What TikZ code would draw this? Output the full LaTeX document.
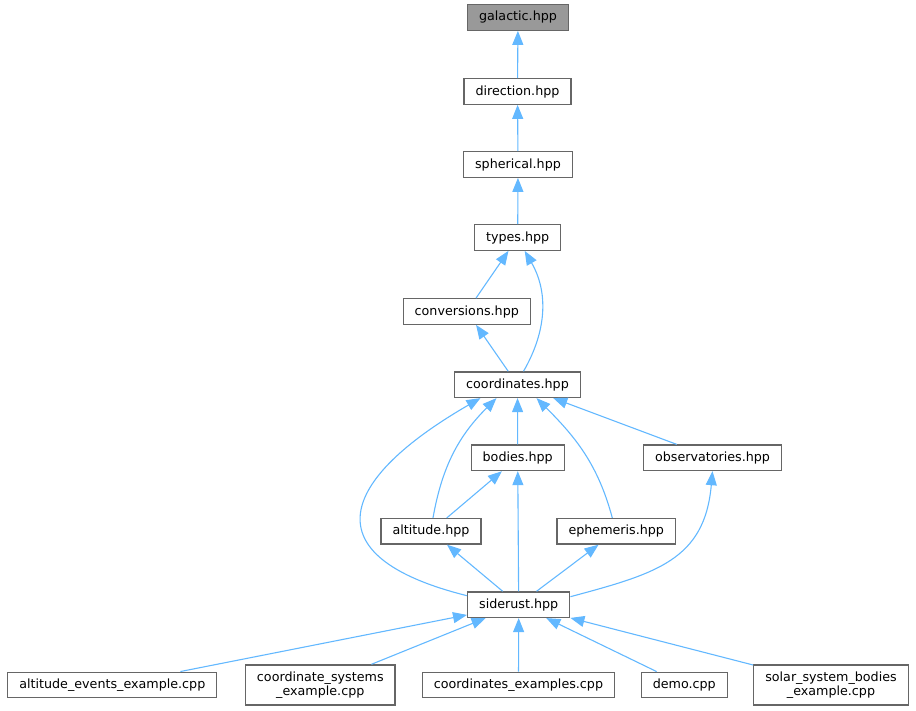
\documentclass[tikz,border=0pt]{standalone}
\usepackage{fontspec}
\setmainfont{DejaVu Sans}
\usetikzlibrary{arrows.meta}

\begin{document}
\begin{tikzpicture}
			\definecolor{boxBorderColour}{RGB}{102, 102, 102}
			\definecolor{mainFillColour}{RGB}{153, 153, 153}
			\definecolor{linkColour}{RGB}{99, 184, 255}
			\tikzstyle{filebox}=[rectangle, draw=boxBorderColour, line width=1.3pt, minimum height=25.5pt, inner xsep=11.5pt, inner ysep=6.5pt, align=center, font=\fontsize{12.7}{14.5}\selectfont]
			\tikzstyle{mainbox}=[filebox, fill=mainFillColour]
			\tikzstyle{link}=[-{Triangle[length=14pt,width=11pt]}, color=linkColour, line width=1.1pt]

			\useasboundingbox (0pt,0pt) rectangle (916pt,-711pt);

			\node [mainbox, xshift=518pt, yshift=-17.5pt] (galactic) {galactic.hpp};
			\node [filebox, xshift=517.5pt, yshift=-91.5pt] (direction) {direction.hpp};
			\node [filebox, xshift=518pt, yshift=-164.5pt] (spherical) {spherical.hpp};
			\node [filebox, xshift=517.7pt, yshift=-237.5pt] (types) {types.hpp};
			\node [filebox, xshift=466.8pt, yshift=-311.5pt] (conversions) {conversions.hpp};
			\node [filebox, xshift=517.5pt, yshift=-384.7pt] (coordinates) {coordinates.hpp};
			\node [filebox, xshift=517.7pt, yshift=-457.8pt] (bodies) {bodies.hpp};
			\node [filebox, xshift=712.5pt, yshift=-457.8pt] (observatories) {observatories.hpp};
			\node [filebox, xshift=431pt, yshift=-531.3pt] (altitude) {altitude.hpp};
			\node [filebox, xshift=616.3pt, yshift=-531.3pt] (ephemeris) {ephemeris.hpp};
			\node [filebox, xshift=518.7pt, yshift=-604.7pt] (siderust) {siderust.hpp};
			\node [filebox, xshift=112.3pt, yshift=-685pt] (altevents) {altitude\_events\_example.cpp};
			\node [filebox, xshift=320.3pt, yshift=-685pt] (coordsystems) {coordinate\_systems\\\_example.cpp};
			\node [filebox, xshift=518.5pt, yshift=-685pt] (coordexamples) {coordinates\_examples.cpp};
			\node [filebox, xshift=684.3pt, yshift=-685pt] (demo) {demo.cpp};
			\node [filebox, xshift=831pt, yshift=-685pt] (solarsystem) {solar\_system\_bodies\\\_example.cpp};

			\path[link]
			(direction) edge (galactic)
			(spherical) edge (direction)
			(types) edge (spherical)
			(conversions) edge (types)
			([xshift=6pt]coordinates.north) edge[out=60, in=-60] ([xshift=7pt]types.south)
			(coordinates) edge (conversions)
			([yshift=9pt]siderust.west) edge[out=166, in=210, looseness=2.1] ([xshift=-37pt]coordinates.south)
			([xshift=2pt]altitude.north) edge[out=80, in=225] ([xshift=-21pt]coordinates.south)
			(bodies) edge (coordinates)
			([xshift=-4pt]ephemeris.north) edge[out=105, in=-45] ([xshift=19pt]coordinates.south)
			(observatories) edge (coordinates)
			(altitude) edge (bodies)
			(siderust) edge (bodies)
			(siderust) edge (altitude)
			(siderust) edge (ephemeris)
			([yshift=8pt]siderust.east) edge[out=15, in=-95, looseness=1.2] (observatories.south)
			(altevents) edge (siderust)
			(coordsystems) edge (siderust)
			(coordexamples) edge (siderust)
			(demo) edge (siderust)
			(solarsystem) edge (siderust);
		\end{tikzpicture}
\end{document}
